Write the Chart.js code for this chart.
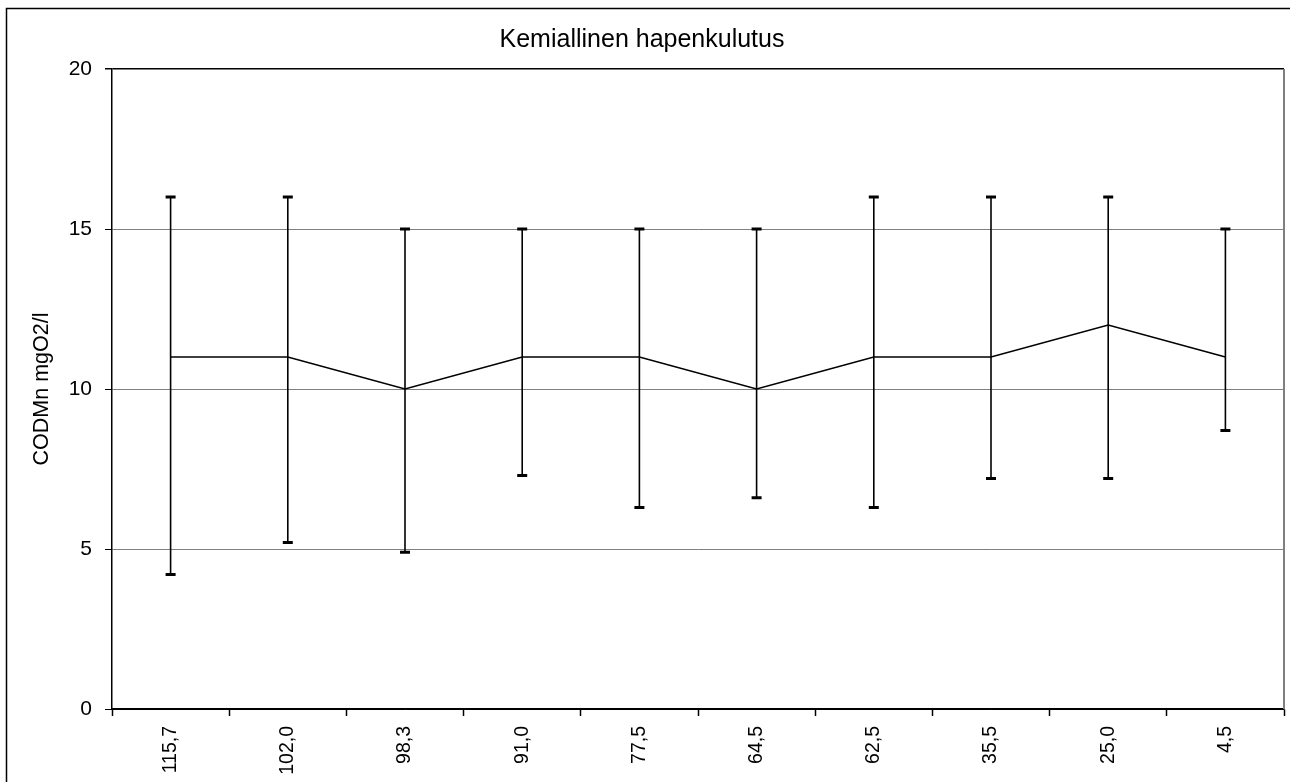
<!DOCTYPE html>
<html>
<head>
<meta charset="utf-8">
<title>Kemiallinen hapenkulutus</title>
<script src="https://cdn.jsdelivr.net/npm/chart.js@4/dist/chart.umd.min.js"></script>
<style>
  html, body { margin: 0; padding: 0; background: #fff; }
  #wrap { width: 1290px; height: 782px; position: relative; }
</style>
</head>
<body>
<div id="wrap"><canvas id="chart" width="1290" height="782"></canvas></div>
<script>
// sampling depth labels (x categories)
const depths = ['115,7', '102,0', '98,3', '91,0', '77,5', '64,5', '62,5', '35,5', '25,0', '4,5'];
// mean values and min/max range for each category
const meanValues = [11, 11, 10, 11, 11, 10, 11, 11, 12, 11];
const minValues = [4.2, 5.2, 4.9, 7.3, 6.3, 6.6, 6.3, 7.2, 7.2, 8.7];
const maxValues = [16, 16, 15, 15, 15, 15, 16, 16, 16, 15];
const yTicks = [0, 5, 10, 15, 20];

const FONT = "'Liberation Sans', Arial, Helvetica, sans-serif";

// outer frame + right border of the plot area
const framePlugin = {
  id: 'frame',
  beforeDraw(chart) {
    const ctx = chart.ctx;
    ctx.save();
    ctx.fillStyle = '#fff';
    ctx.fillRect(0, 0, chart.width, chart.height);
    ctx.strokeStyle = '#000';
    ctx.lineWidth = 1.5;
    ctx.beginPath();
    ctx.moveTo(6.5, chart.height + 5);
    ctx.lineTo(6.5, 8.5);
    ctx.lineTo(chart.width + 5, 8.5);
    ctx.stroke();
    ctx.restore();
  },
  afterDraw(chart) {
    const { ctx, chartArea } = chart;
    ctx.save();
    ctx.strokeStyle = '#808080';
    ctx.lineWidth = 2;
    ctx.beginPath();
    ctx.moveTo(chartArea.right, chartArea.top);
    ctx.lineTo(chartArea.right, chartArea.bottom);
    ctx.stroke();
    ctx.restore();
  }
};

// min-max bars, drawn through the chart scales
const errorBars = {
  id: 'errorBars',
  afterDatasetsDraw(chart) {
    const ctx = chart.ctx;
    const x = chart.scales.x, y = chart.scales.y;
    ctx.save();
    ctx.strokeStyle = '#000';
    for (let i = 0; i < depths.length; i++) {
      const px = x.getPixelForValue(i);
      const top = y.getPixelForValue(maxValues[i]);
      const bot = y.getPixelForValue(minValues[i]);
      ctx.lineWidth = 1.6;
      ctx.beginPath();
      ctx.moveTo(px, top);
      ctx.lineTo(px, bot);
      ctx.stroke();
      ctx.lineWidth = 3;
      ctx.beginPath();
      ctx.moveTo(px - 5, top);
      ctx.lineTo(px + 5, top);
      ctx.moveTo(px - 5, bot);
      ctx.lineTo(px + 5, bot);
      ctx.stroke();
    }
    ctx.restore();
  }
};

new Chart(document.getElementById('chart'), {
  type: 'line',
  data: {
    labels: depths,
    datasets: [{
      label: 'CODMn',
      data: meanValues,
      borderColor: '#000',
      borderWidth: 1.6,
      pointRadius: 0,
      tension: 0,
      fill: false
    }]
  },
  options: {
    responsive: false,
    animation: false,
    layout: { padding: { top: 0, left: 0, right: 6, bottom: 0 } },
    plugins: {
      legend: { display: false },
      tooltip: { enabled: false },
      title: {
        display: true,
        text: 'Kemiallinen hapenkulutus',
        color: '#000',
        font: { family: FONT, size: 25, weight: 'normal' },
        padding: { top: 25, bottom: 14 }
      }
    },
    scales: {
      x: {
        type: 'category',
        offset: true,
        grid: {
          offset: true,
          drawOnChartArea: false,
          drawTicks: true,
          tickLength: 7,
          tickColor: '#000',
          tickWidth: 1.5
        },
        border: { color: '#000', width: 1.5 },
        ticks: {
          color: '#000',
          autoSkip: false,
          minRotation: 90,
          maxRotation: 90,
          padding: 10,
          font: { family: FONT, size: 19.5 }
        },
        afterFit(scale) { scale.height = 73; }
      },
      y: {
        min: 0,
        max: 20,
        afterBuildTicks(scale) { scale.ticks = yTicks.map(v => ({ value: v })); },
        grid: {
          color: ctx => (ctx.tick && (ctx.tick.value === 20 || ctx.tick.value === 0)) ? '#000' : '#808080',
          lineWidth: ctx => (ctx.tick && ctx.tick.value === 20) ? 1.5 : 1,
          tickLength: 7,
          tickColor: '#000'
        },
        border: { color: '#000', width: 1.5 },
        ticks: {
          color: '#000',
          padding: 13,
          font: { family: FONT, size: 21 }
        },
        title: {
          display: true,
          text: 'CODMn mgO2/l',
          color: '#000',
          font: { family: FONT, size: 21.5 },
          padding: { top: 29, bottom: 0 }
        },
        afterFit(scale) { scale.width = 112; }
      }
    }
  },
  plugins: [framePlugin, errorBars]
});
</script>
</body>
</html>
